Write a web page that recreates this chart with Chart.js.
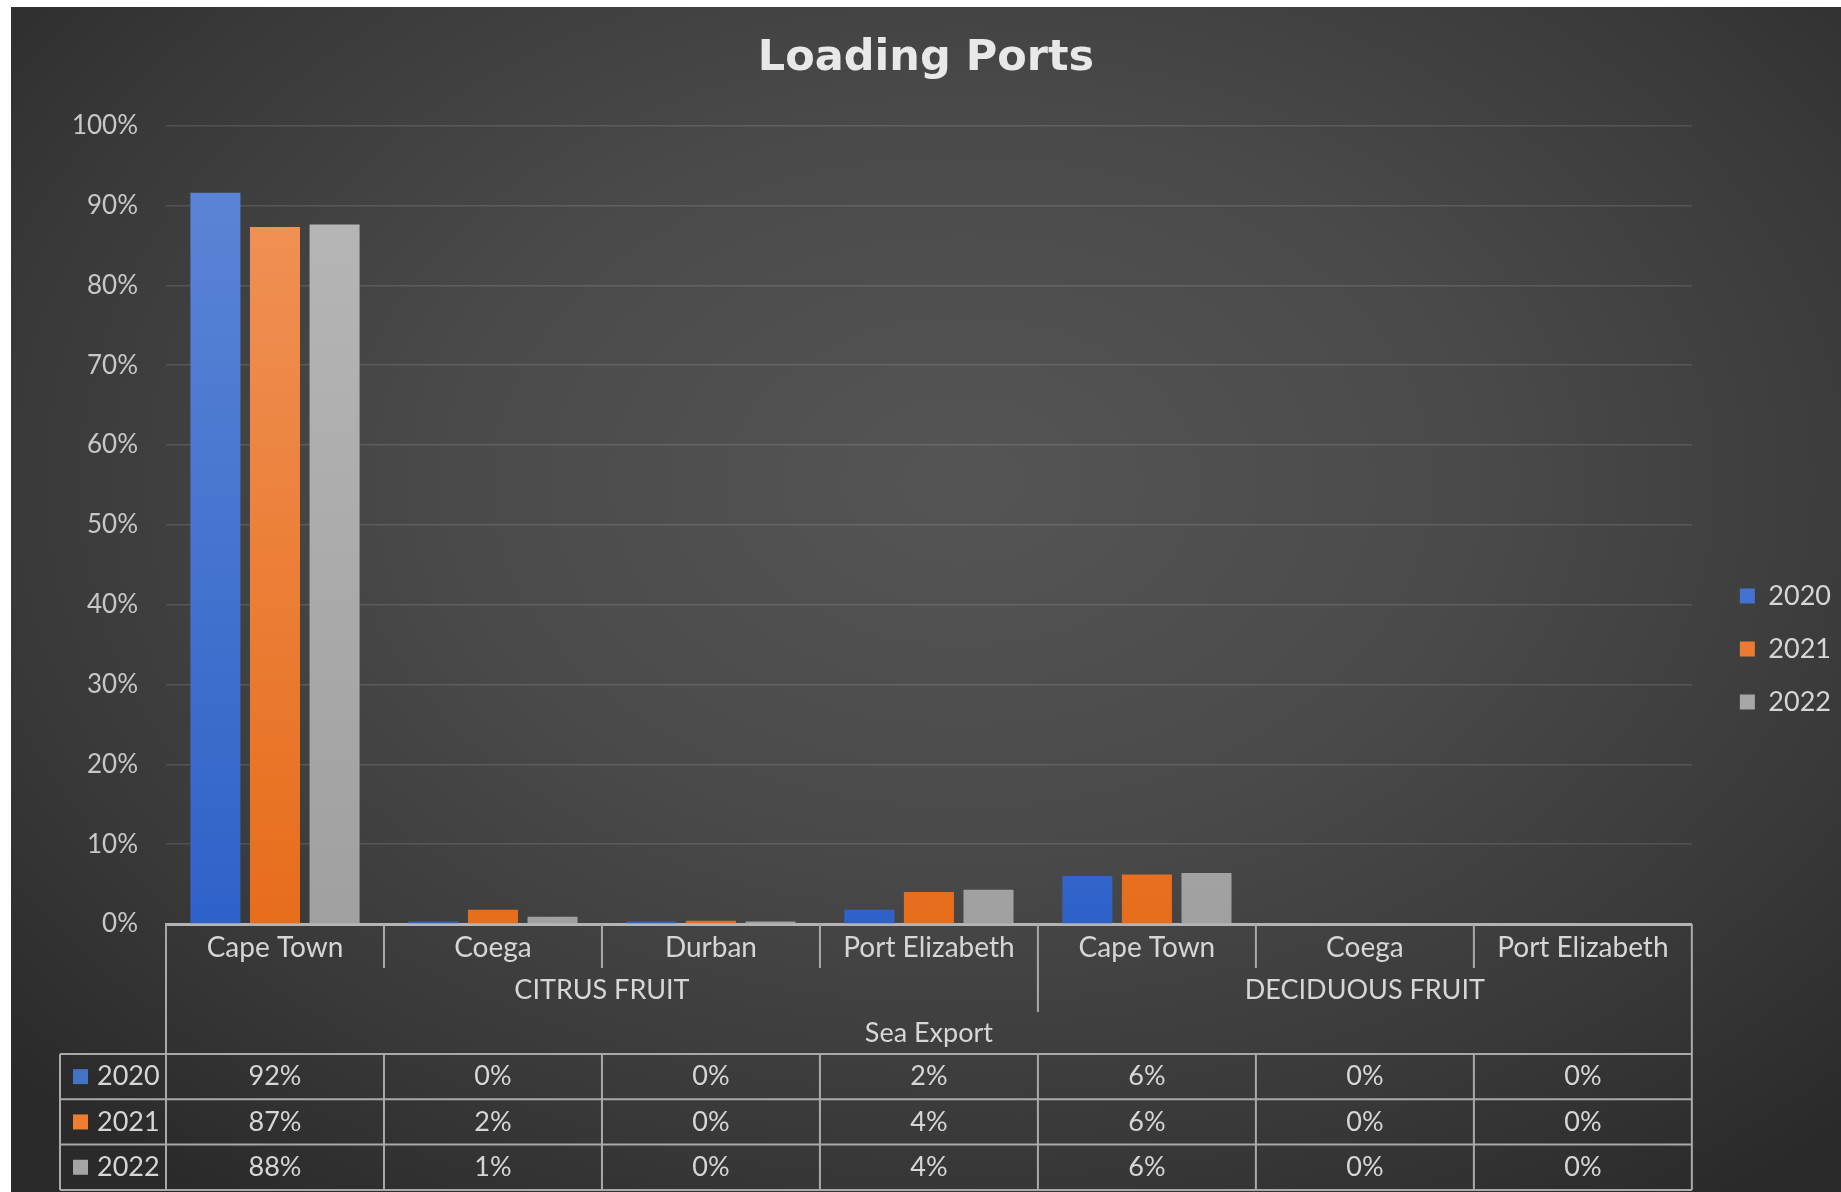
<!DOCTYPE html>
<html>
<head>
<meta charset="utf-8">
<title>Loading Ports</title>
<script src="https://cdn.jsdelivr.net/npm/chart.js@4.4.1/dist/chart.umd.min.js"></script>
<style>
  html, body {
    margin: 0;
    padding: 0;
    width: 1841px;
    height: 1192px;
    overflow: hidden;
    background: #fff;
  }
  #panel {
    position: absolute;
    left: 11px;
    top: 7px;
    width: 1830px;
    height: 1185px;
    background: radial-gradient(ellipse 70% 75% at 52% 40%, #555555 0%, #4a4a4a 40%, #393939 75%, #2a2a2a 100%);
  }
  canvas { display: block; }
</style>
</head>
<body>
<div id="panel">
  <canvas id="portsChart" width="1830" height="1185"></canvas>
</div>

<script>
/* =========================================================
   DATA
========================================================= */
const categories = ["Cape Town", "Coega", "Durban", "Port Elizabeth", "Cape Town", "Coega", "Port Elizabeth"];
const fruitGroups = ["CITRUS FRUIT", "DECIDUOUS FRUIT"];
const groupSizes = [4, 3];
const exportMode = "Sea Export";
const years = ["2020", "2021", "2022"];

// share of loads per port, in percent
const share2020 = [91.6, 0.3, 0.3, 1.8, 6.0, 0, 0];
const share2021 = [87.3, 1.8, 0.4, 4.0, 6.2, 0, 0];
const share2022 = [87.6, 0.9, 0.3, 4.3, 6.4, 0, 0];

const yTicks = [0, 10, 20, 30, 40, 50, 60, 70, 80, 90, 100];

/* =========================================================
   STYLE
========================================================= */
const seriesColors = [
  { top: "#5e87d6", bottom: "#2f62c9", key: "#4472c4" },
  { top: "#f1955c", bottom: "#e76d1b", key: "#ed7d31" },
  { top: "#b8b8b8", bottom: "#a0a0a0", key: "#a5a5a5" }
];
const textColor = "#d6d6d6";
const lineColor = "#a9a9a9";
const labelFont = "27px Lato";

function barFill(ctx, i) {
  const c = seriesColors[i];
  const area = ctx.chart.chartArea;
  if (ctx.type !== "data" || !area) return c.key;
  const g = ctx.chart.ctx.createLinearGradient(0, area.top, 0, area.bottom);
  g.addColorStop(0, c.top);
  g.addColorStop(1, c.bottom);
  return g;
}

function pct(v) {
  return Math.round(v) + "%";
}

/* =========================================================
   DATA TABLE UNDER THE AXIS
========================================================= */
const dataTable = {
  id: "dataTable",
  afterDraw(chart) {
    const { ctx } = chart;
    const x = chart.scales.x;
    const n = categories.length;
    const colW = x.width / n;
    const left = x.left;
    const right = x.right;
    const top = x.top;
    const keyLeft = left - 106;
    const rowTop = top + 130;
    const rowH = 45.3;
    const rowBottom = rowTop + rowH * years.length;
    const colX = i => left + i * colW;

    const groupEdges = [];
    let acc = 0;
    groupSizes.forEach(s => { acc += s; groupEdges.push(acc); });

    const series = [share2020, share2021, share2022];

    ctx.save();
    ctx.strokeStyle = lineColor;
    ctx.lineWidth = 2;
    ctx.beginPath();
    const seg = (x1, y1, x2, y2) => { ctx.moveTo(x1, y1); ctx.lineTo(x2, y2); };

    // outer borders
    seg(left, top, left, rowBottom);
    seg(right, top, right, rowBottom);
    seg(keyLeft, rowTop, keyLeft, rowBottom);

    // column separators
    for (let i = 1; i < n; i++) {
      const edge = groupEdges.includes(i);
      seg(colX(i), top, colX(i), top + (edge ? 88 : 44));
      seg(colX(i), rowTop, colX(i), rowBottom);
    }

    // row lines
    for (let r = 0; r <= years.length; r++) {
      const y = rowTop + r * rowH;
      seg(keyLeft, y, right, y);
    }
    ctx.stroke();

    ctx.fillStyle = textColor;
    ctx.font = labelFont;
    ctx.textAlign = "center";
    ctx.textBaseline = "middle";

    // fruit group labels
    let start = 0;
    fruitGroups.forEach((g, gi) => {
      const end = start + groupSizes[gi];
      ctx.fillText(g, (colX(start) + colX(end)) / 2, top + 66);
      start = end;
    });

    // export mode label
    ctx.fillText(exportMode, (left + right) / 2, top + 109);

    // value rows
    series.forEach((vals, r) => {
      const cy = rowTop + rowH * (r + 0.5);

      ctx.fillStyle = seriesColors[r].key;
      ctx.fillRect(keyLeft + 13, cy - 7.5, 15, 15);

      ctx.fillStyle = textColor;
      ctx.textAlign = "left";
      ctx.fillText(years[r], keyLeft + 37, cy);

      ctx.textAlign = "center";
      vals.forEach((v, i) => {
        ctx.fillText(pct(v), colX(i) + colW / 2, cy);
      });
    });

    ctx.restore();
  }
};

/* =========================================================
   CHART
========================================================= */
new Chart(document.getElementById("portsChart"), {
  type: "bar",
  data: {
    labels: categories,
    datasets: [share2020, share2021, share2022].map((d, i) => ({
      label: years[i],
      data: d,
      backgroundColor: ctx => barFill(ctx, i),
      borderWidth: 0,
      categoryPercentage: 0.82,
      barPercentage: 0.84
    }))
  },
  options: {
    responsive: false,
    animation: false,
    layout: { padding: { left: 0, right: 0, top: 0, bottom: 20 } },
    plugins: {
      title: {
        display: true,
        text: "Loading Ports",
        color: "#e8e8e8",
        font: { family: "DejaVu Sans", size: 43, weight: "bold" },
        padding: { top: 26, bottom: 41 }
      },
      legend: {
        position: "right",
        // empty legend title only pushes the keys down
        title: { display: true, text: "", font: { size: 10 }, padding: { top: 107, bottom: 0 } },
        labels: {
          color: textColor,
          font: { family: "Lato", size: 27 },
          boxWidth: 15,
          boxHeight: 15,
          padding: 26
        }
      },
      tooltip: { enabled: false }
    },
    scales: {
      x: {
        grid: { display: false },
        border: { display: true, color: "#b4b4b4", width: 3 },
        ticks: {
          color: textColor,
          font: { family: "Lato", size: 28 },
          padding: -1,
          maxRotation: 0,
          autoSkip: false
        },
        afterFit: s => { s.height = 248; }
      },
      y: {
        min: 0,
        max: 100,
        grid: { color: "rgba(255,255,255,0.12)", lineWidth: 1.5, drawTicks: false },
        border: { display: false },
        ticks: {
          color: "#c8c8c8",
          font: { family: "Lato", size: 26 },
          padding: 28,
          callback: v => v + "%"
        },
        afterBuildTicks: s => { s.ticks = yTicks.map(v => ({ value: v })); },
        afterFit: s => { s.width = 155; }
      },
      y2: {
        position: "right",
        display: true,
        grid: { display: false },
        border: { display: false },
        ticks: { display: false },
        afterFit: s => { s.width = 22; }
      }
    }
  },
  plugins: [dataTable]
});
</script>
</body>
</html>
